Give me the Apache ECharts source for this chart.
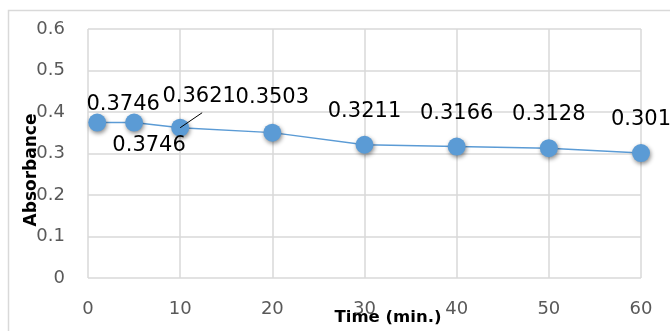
<!DOCTYPE html>
<html>
<head>
<meta charset="utf-8">
<script src="https://cdn.jsdelivr.net/npm/echarts@6/dist/echarts.min.js"></script>
<style>
  html, body { margin: 0; padding: 0; background: #fff; }
  #chart { width: 670px; height: 331px; }
</style>
</head>
<body>
<div id="chart"></div>
<script>
// Absorbance readings over time
const timeMin = [1, 5, 10, 20, 30, 40, 50, 60];
const absorbance = [0.3746, 0.3746, 0.3621, 0.3503, 0.3211, 0.3166, 0.3128, 0.301];
const xTicks = [0, 10, 20, 30, 40, 50, 60];
const yTicks = [0, 0.1, 0.2, 0.3, 0.4, 0.5, 0.6];
const xTitle = 'Time (min.)';
const yTitle = 'Absorbance';

// Per-point label placement tweaks (pixel nudges only)
const labelTweaks = [
  { offset: [26, 16] },
  { position: 'bottom', offset: [15, -10] },
  { offset: [19, 2], leader: true },
  { offset: [0, -2] },
  {}, {}, {}, {}
];

const chart = echarts.init(document.getElementById('chart'), null, { renderer: 'canvas' });

const seriesData = timeMin.map((t, i) => {
  const tw = labelTweaks[i];
  return {
    value: [t, absorbance[i]],
    label: {
      position: tw.position || 'top',
      offset: tw.offset || [0, 0]
    }
  };
});

const staticGraphics = [
  {
    type: 'rect',
    silent: true,
    shape: { x: 8.5, y: 10.5, width: 700, height: 360 },
    style: { fill: 'none', stroke: '#d9d9d9', lineWidth: 1.5 },
    z: -10
  },
  {
    type: 'text',
    x: 388, y: 318,
    style: {
      text: xTitle,
      fontFamily: 'DejaVu Sans',
      fontWeight: 'bold',
      fontSize: 16.5,
      fill: '#000',
      align: 'center',
      verticalAlign: 'middle'
    },
    z: 10
  },
  {
    type: 'text',
    x: 32, y: 170,
    rotation: Math.PI / 2,
    style: {
      text: yTitle,
      fontFamily: 'DejaVu Sans',
      fontWeight: 'bold',
      fontSize: 17,
      fill: '#000',
      align: 'center',
      verticalAlign: 'middle'
    },
    z: 10
  }
];

const option = {
  backgroundColor: '#fff',
  animation: false,
  grid: { left: 88, right: 29, top: 29, bottom: 53 },
  xAxis: {
    type: 'value',
    min: xTicks[0],
    max: xTicks[xTicks.length - 1],
    interval: 10,
    axisLine: { show: false },
    axisTick: { show: false },
    splitLine: { show: true, lineStyle: { color: '#d9d9d9', width: 1.5 } },
    axisLabel: {
      color: '#595959',
      fontFamily: 'DejaVu Sans',
      fontSize: 18,
      margin: 22
    }
  },
  yAxis: {
    type: 'value',
    min: yTicks[0],
    max: yTicks[yTicks.length - 1],
    interval: 0.1,
    axisLine: { show: false },
    axisTick: { show: false },
    splitLine: { show: true, lineStyle: { color: '#d9d9d9', width: 1.5 } },
    axisLabel: {
      color: '#595959',
      fontFamily: 'DejaVu Sans',
      fontSize: 18,
      margin: 23,
      formatter: v => (Math.round(v * 10) / 10).toString()
    }
  },
  graphic: staticGraphics,
  series: [
    {
      type: 'line',
      data: seriesData,
      symbol: 'circle',
      symbolSize: 18,
      lineStyle: { color: '#5b9bd5', width: 1.5 },
      itemStyle: {
        color: '#5b9bd5',
        shadowColor: 'rgba(0,0,0,0.45)',
        shadowBlur: 4,
        shadowOffsetX: 1,
        shadowOffsetY: 2
      },
      label: {
        show: true,
        distance: 14,
        color: '#000',
        fontFamily: 'DejaVu Sans',
        fontSize: 21,
        formatter: p => p.value[1].toString()
      },
      z: 5
    }
  ]
};

chart.setOption(option);

// Leader line from the displaced label down to its data point
const leaders = [];
labelTweaks.forEach((tw, i) => {
  if (!tw.leader) return;
  const p = chart.convertToPixel({ gridIndex: 0 }, [timeMin[i], absorbance[i]]);
  leaders.push({
    type: 'line',
    silent: true,
    shape: { x1: p[0] + 22, y1: p[1] - 15, x2: p[0], y2: p[1] },
    style: { stroke: '#000', lineWidth: 1 },
    z: 20
  });
});
chart.setOption({ graphic: staticGraphics.concat(leaders) });
</script>
</body>
</html>
